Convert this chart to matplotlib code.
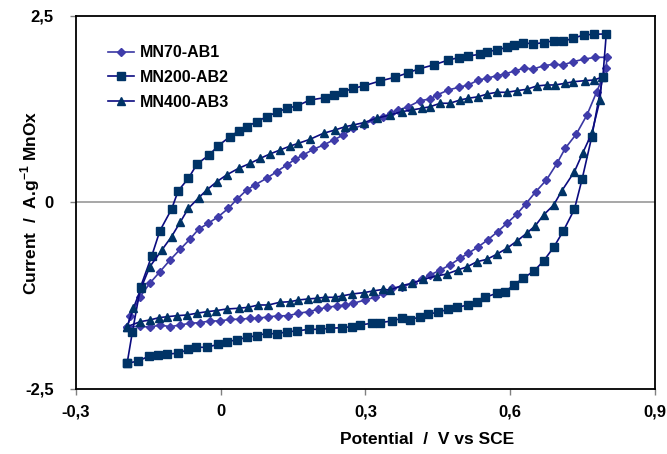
import matplotlib
matplotlib.use('Agg')
import matplotlib.pyplot as plt

plt.rcParams['font.family'] = ['Liberation Sans', 'DejaVu Sans']
plt.rcParams['font.weight'] = 'bold'
plt.rcParams['mathtext.fontset'] = 'custom'
plt.rcParams['mathtext.bf'] = 'Liberation Sans:bold'
plt.rcParams['mathtext.rm'] = 'Liberation Sans:bold'

# Cyclic voltammograms: forward (anodic) sweep then reverse sweep, potential in V vs SCE,
# current in A/g of MnOx
mn70_v_fwd = [-0.194, -0.187, -0.167, -0.147, -0.126, -0.105, -0.084, -0.064, -0.046, -0.026,
              -0.005, 0.016, 0.033, 0.054, 0.071, 0.095, 0.116, 0.137, 0.154, 0.171,
              0.192, 0.213, 0.234, 0.254, 0.275, 0.296, 0.316, 0.337, 0.352, 0.368,
              0.389, 0.413, 0.434, 0.448, 0.472, 0.493, 0.513, 0.534, 0.552, 0.572,
              0.590, 0.610, 0.629, 0.648, 0.670, 0.690, 0.709, 0.730, 0.752, 0.776, 0.800]
mn70_i_fwd = [-1.673, -1.521, -1.263, -1.083, -0.928, -0.771, -0.627, -0.493, -0.359, -0.279,
              -0.190, -0.078, 0.040, 0.168, 0.235, 0.324, 0.413, 0.503, 0.579, 0.637,
              0.713, 0.771, 0.838, 0.905, 0.995, 1.039, 1.106, 1.150, 1.195, 1.240,
              1.284, 1.365, 1.387, 1.441, 1.508, 1.544, 1.575, 1.642, 1.665, 1.700,
              1.723, 1.767, 1.799, 1.790, 1.834, 1.853, 1.843, 1.887, 1.920, 1.946, 1.946]
mn70_v_rev = [0.799, 0.779, 0.759, 0.737, 0.714, 0.697, 0.675, 0.653, 0.632, 0.614,
              0.593, 0.574, 0.553, 0.534, 0.513, 0.496, 0.475, 0.455, 0.434, 0.417,
              0.399, 0.375, 0.355, 0.337, 0.320, 0.299, 0.275, 0.258, 0.241, 0.220,
              0.202, 0.182, 0.161, 0.140, 0.119, 0.099, 0.078, 0.061, 0.040, 0.019,
              -0.001, -0.022, -0.043, -0.064, -0.084, -0.105, -0.126, -0.147, -0.167, -0.194]
mn70_i_rev = [1.799, 1.480, 1.173, 0.918, 0.727, 0.525, 0.302, 0.145, -0.020, -0.154,
              -0.279, -0.391, -0.503, -0.593, -0.681, -0.748, -0.838, -0.905, -0.972, -1.030,
              -1.083, -1.129, -1.150, -1.217, -1.271, -1.307, -1.351, -1.374, -1.387, -1.405,
              -1.432, -1.464, -1.485, -1.517, -1.521, -1.531, -1.552, -1.552, -1.566, -1.566,
              -1.588, -1.588, -1.611, -1.619, -1.642, -1.665, -1.642, -1.673, -1.656, -1.673]

mn200_v_fwd = [-0.194, -0.183, -0.166, -0.143, -0.126, -0.102, -0.088, -0.067, -0.049, -0.024,
               -0.005, 0.019, 0.037, 0.054, 0.075, 0.095, 0.116, 0.137, 0.158, 0.185,
               0.216, 0.234, 0.254, 0.275, 0.296, 0.330, 0.361, 0.389, 0.410, 0.441,
               0.472, 0.493, 0.513, 0.538, 0.552, 0.572, 0.593, 0.607, 0.627, 0.647,
               0.669, 0.690, 0.710, 0.730, 0.752, 0.773, 0.799]
mn200_i_fwd = [-2.156, -1.732, -1.129, -0.717, -0.378, -0.091, 0.158, 0.324, 0.516, 0.637,
               0.761, 0.882, 0.958, 1.016, 1.083, 1.150, 1.209, 1.263, 1.294, 1.374,
               1.405, 1.441, 1.485, 1.531, 1.562, 1.629, 1.678, 1.740, 1.790, 1.843,
               1.910, 1.941, 1.964, 1.987, 2.021, 2.044, 2.080, 2.107, 2.142, 2.125,
               2.142, 2.169, 2.161, 2.201, 2.245, 2.255, 2.259]
mn200_v_rev = [0.792, 0.769, 0.749, 0.733, 0.710, 0.690, 0.669, 0.650, 0.627, 0.607,
               0.590, 0.572, 0.548, 0.531, 0.513, 0.489, 0.472, 0.451, 0.430, 0.413,
               0.392, 0.375, 0.355, 0.330, 0.313, 0.289, 0.272, 0.251, 0.227, 0.206,
               0.182, 0.158, 0.137, 0.116, 0.095, 0.075, 0.054, 0.033, 0.012, -0.005,
               -0.029, -0.051, -0.067, -0.088, -0.111, -0.129, -0.148, -0.171, -0.194]
mn200_i_rev = [1.686, 0.882, 0.315, -0.091, -0.382, -0.601, -0.784, -0.914, -1.016, -1.106,
               -1.196, -1.217, -1.271, -1.330, -1.374, -1.405, -1.428, -1.472, -1.495, -1.531,
               -1.575, -1.552, -1.588, -1.611, -1.619, -1.642, -1.665, -1.678, -1.686, -1.700,
               -1.700, -1.723, -1.732, -1.763, -1.753, -1.786, -1.807, -1.843, -1.866, -1.901,
               -1.941, -1.941, -1.968, -2.021, -2.031, -2.044, -2.058, -2.125, -2.156]

mn400_v_fwd = [-0.194, -0.181, -0.165, -0.147, -0.122, -0.102, -0.084, -0.067, -0.046, -0.029,
               -0.008, 0.012, 0.037, 0.061, 0.082, 0.102, 0.123, 0.144, 0.161, 0.185,
               0.213, 0.237, 0.258, 0.275, 0.296, 0.323, 0.351, 0.375, 0.396, 0.417,
               0.434, 0.455, 0.475, 0.496, 0.513, 0.534, 0.552, 0.572, 0.593, 0.614,
               0.634, 0.655, 0.676, 0.693, 0.714, 0.731, 0.755, 0.773, 0.790]
mn400_i_fwd = [-1.665, -1.418, -1.146, -0.861, -0.637, -0.458, -0.265, -0.078, 0.060, 0.168,
               0.279, 0.369, 0.458, 0.525, 0.592, 0.650, 0.704, 0.757, 0.793, 0.847,
               0.928, 0.972, 1.016, 1.039, 1.070, 1.129, 1.173, 1.217, 1.240, 1.263,
               1.284, 1.330, 1.330, 1.374, 1.397, 1.418, 1.454, 1.477, 1.477, 1.499,
               1.517, 1.562, 1.575, 1.575, 1.598, 1.619, 1.633, 1.642, 1.678]
mn400_v_rev = [0.786, 0.769, 0.750, 0.733, 0.707, 0.690, 0.669, 0.652, 0.634, 0.614,
               0.593, 0.572, 0.552, 0.531, 0.511, 0.491, 0.469, 0.448, 0.420, 0.396,
               0.375, 0.351, 0.337, 0.316, 0.296, 0.272, 0.251, 0.237, 0.216, 0.199,
               0.180, 0.161, 0.144, 0.122, 0.099, 0.078, 0.057, 0.037, 0.012, -0.010,
               -0.029, -0.050, -0.070, -0.090, -0.111, -0.128, -0.147, -0.167, -0.194]
mn400_i_rev = [1.374, 0.928, 0.660, 0.413, 0.158, -0.034, -0.168, -0.311, -0.413, -0.516,
               -0.614, -0.694, -0.761, -0.794, -0.861, -0.905, -0.958, -0.985, -1.030, -1.083,
               -1.115, -1.173, -1.164, -1.186, -1.209, -1.227, -1.253, -1.271, -1.271, -1.284,
               -1.294, -1.307, -1.330, -1.338, -1.374, -1.374, -1.405, -1.418, -1.428, -1.450,
               -1.464, -1.485, -1.508, -1.517, -1.531, -1.544, -1.575, -1.598, -1.665]

x_ticks = [-0.3, 0, 0.3, 0.6, 0.9]
x_tick_labels = ['-0,3', '0', '0,3', '0,6', '0,9']
y_ticks = [-2.5, 0, 2.5]
y_tick_labels = ['-2,5', '0', '2,5']

fig = plt.figure(figsize=(6.67, 4.54), dpi=100)
ax = fig.add_axes([0.1139, 0.1432, 0.8681, 0.8216])

# zero-current reference line
ax.axhline(0, color='#a0a0a0', linewidth=1.3, zorder=1)

ax.plot(mn70_v_fwd + mn70_v_rev, mn70_i_fwd + mn70_i_rev, color='#3a37a3', linewidth=1.2,
        marker='D', markersize=4.5, markerfacecolor='#3f3caa', markeredgecolor='#3f3caa',
        label='MN70-AB1', zorder=3)
ax.plot(mn200_v_fwd + mn200_v_rev, mn200_i_fwd + mn200_i_rev, color='#0b0b80', linewidth=1.2,
        marker='s', markersize=5.5, markerfacecolor='#003366', markeredgecolor='#003366',
        label='MN200-AB2', zorder=3)
ax.plot(mn400_v_fwd + mn400_v_rev, mn400_i_fwd + mn400_i_rev, color='#0b0b80', linewidth=1.2,
        marker='^', markersize=5.5, markerfacecolor='#003366', markeredgecolor='#003366',
        label='MN400-AB3', zorder=3)

ax.set_xlim(-0.3, 0.9)
ax.set_ylim(-2.5, 2.5)
ax.set_xticks(x_ticks)
ax.set_xticklabels(x_tick_labels)
ax.set_yticks(y_ticks)
ax.set_yticklabels(y_tick_labels)
ax.tick_params(direction='out', length=4, width=1, color='#808080', labelsize=12)
ax.tick_params(axis='x', pad=7)
ax.tick_params(axis='y', pad=12)

for spine in ax.spines.values():
    spine.set_linewidth(1.3)
    spine.set_color('black')

ax.set_xlabel('Potential  /  V vs SCE', fontsize=12.5, fontweight='bold')
ax.xaxis.set_label_coords(0.606, -0.115)
ax.set_ylabel(r'Current  /  A.g$^{\mathbf{-1}}$ MnOx', fontsize=12.5, fontweight='bold')
ax.yaxis.set_label_coords(-0.058, 0.5)

ax.legend(loc='upper left', bbox_to_anchor=(0.162, 0.90), bbox_transform=fig.transFigure,
          frameon=False, fontsize=11.5, handlelength=1.6, handletextpad=0.4,
          labelspacing=0.6, borderpad=0, borderaxespad=0, numpoints=1)

fig.savefig('out.png', dpi=100)
